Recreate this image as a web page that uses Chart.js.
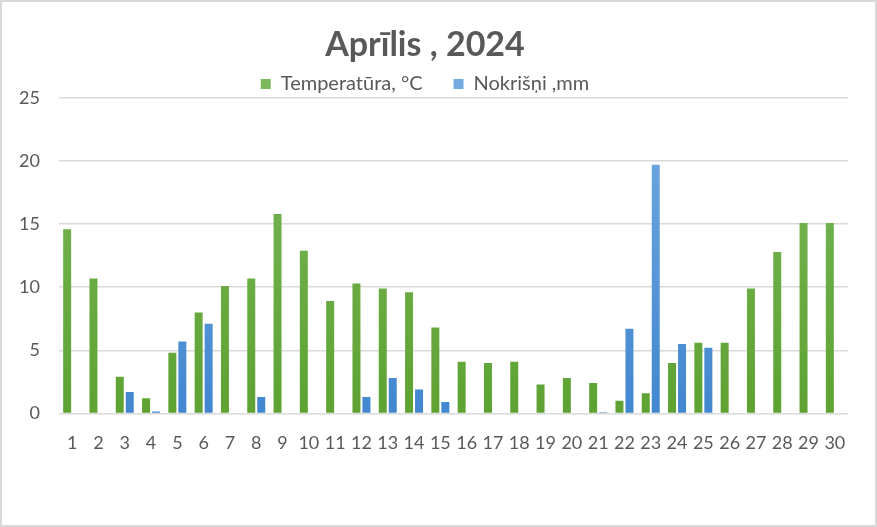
<!DOCTYPE html>
<html>
<head>
<meta charset="utf-8">
<script src="https://cdn.jsdelivr.net/npm/chart.js@4"></script>
<style>
    html, body { margin: 0; padding: 0; background: #fff; }
    #wrap {
        box-sizing: border-box;
        width: 877px;
        height: 527px;
        border: 2px solid #d9d9d9;
        position: relative;
    }
</style>
</head>
<body>
<div id="wrap"><canvas id="chart"></canvas></div>
<script>
// April 2024 - daily values
const days = ['1', '2', '3', '4', '5', '6', '7', '8', '9', '10',
    '11', '12', '13', '14', '15', '16', '17', '18', '19', '20',
    '21', '22', '23', '24', '25', '26', '27', '28', '29', '30'];

const temperature = [14.6, 10.7, 2.9, 1.2, 4.8, 8.0, 10.1, 10.7, 15.8, 12.9,
    8.9, 10.3, 9.9, 9.6, 6.8, 4.1, 4.0, 4.1, 2.3, 2.8,
    2.4, 1.0, 1.6, 4.0, 5.6, 5.6, 9.9, 12.8, 15.1, 15.1];

const precipitation = [0, 0, 1.7, 0.15, 5.7, 7.1, 0, 1.3, 0, 0,
    0, 1.3, 2.8, 1.9, 0.9, 0, 0, 0, 0, 0,
    0.1, 6.7, 19.7, 5.5, 5.2, 0, 0, 0, 0, 0];

const yTicks = [0, 5, 10, 15, 20, 25];

const textColor = '#595959';
const gridColor = '#d9d9d9';

// vertical gradient like the Excel bars, plain colour for the legend box
function barFill(top, bottom, plain) {
    return function(context) {
        const area = context.chart.chartArea;
        if (context.type !== 'data' || !area) return plain;
        const g = context.chart.ctx.createLinearGradient(0, area.top, 0, area.bottom);
        g.addColorStop(0, top);
        g.addColorStop(1, bottom);
        return g;
    };
}

// legend sits closer to the plot than Chart.js allows by default
const tightLegend = {
    id: 'tightLegend',
    afterInit(chart) {
        const lg = chart.legend;
        if (!lg) return;
        const fit = lg.fit;
        lg.fit = function() {
            fit.call(this);
            this.height -= 6;
        };
    }
};

Chart.defaults.font.family = 'Lato, "Open Sans", sans-serif';

new Chart(document.getElementById('chart'), {
    type: 'bar',
    data: {
        labels: days,
        datasets: [{
            label: 'Temperatūra, °C',
            data: temperature,
            backgroundColor: barFill('#7bb95c', '#5ea232', '#70ad47'),
            categoryPercentage: 0.76,
            barPercentage: 0.8
        }, {
            label: 'Nokrišņi ,mm',
            data: precipitation,
            backgroundColor: barFill('#74aae0', '#4187d0', '#5b9bd5'),
            categoryPercentage: 0.76,
            barPercentage: 0.8
        }]
    },
    plugins: [tightLegend],
    options: {
        responsive: true,
        maintainAspectRatio: false,
        animation: false,
        layout: {
            padding: { left: 0, right: 27, top: 0, bottom: 60 }
        },
        plugins: {
            title: {
                display: true,
                text: 'Aprīlis , 2024',
                color: textColor,
                font: { size: 34, weight: 'bold' },
                padding: { top: 22.6, bottom: -22.4 }
            },
            legend: {
                labels: {
                    color: textColor,
                    font: { size: 20 },
                    boxWidth: 10,
                    boxHeight: 10,
                    padding: 31
                }
            },
            tooltip: { enabled: false }
        },
        scales: {
            x: {
                grid: { display: false },
                border: { display: false },
                ticks: {
                    color: textColor,
                    font: { size: 18 },
                    padding: 11,
                    maxRotation: 0,
                    autoSkip: false
                }
            },
            y: {
                min: 0,
                max: 25,
                afterFit: function(scale) { scale.width = 57; },
                afterBuildTicks: function(scale) {
                    scale.ticks = yTicks.map(v => ({ value: v }));
                },
                grid: { color: gridColor, lineWidth: 1.5, drawTicks: false },
                border: { display: false },
                ticks: {
                    color: textColor,
                    font: { size: 18 },
                    padding: 19
                }
            }
        }
    }
});
</script>
</body>
</html>
